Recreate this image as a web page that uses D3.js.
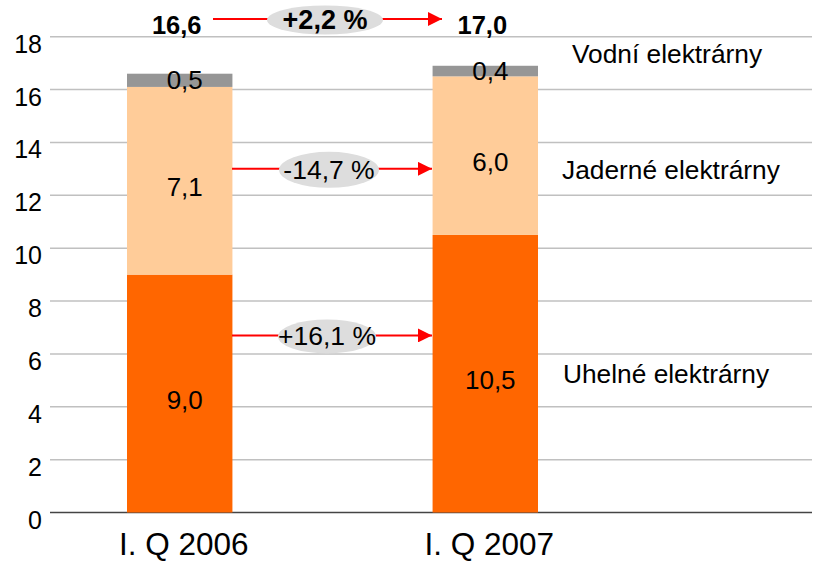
<!DOCTYPE html>
<html>
<head>
<meta charset="utf-8">
<style>
body { margin: 0; background: #fff; }
text { font-family: "Liberation Sans", Arial, sans-serif; fill: #000; }
</style>
</head>
<body>
<svg width="815" height="562"></svg>
<script src="https://d3js.org/d3.v7.min.js"></script>
<script>

var quarters = ["I. Q 2006", "I. Q 2007"];
var uhelne = [9.0, 10.5];
var jaderne = [7.1, 6.0];
var vodni = [0.5, 0.4];
var totals = ["16,6", "17,0"];
var seriesNames = ["Uhelné elektrárny", "Jaderné elektrárny", "Vodní elektrárny"];
var changes = ["+16,1 %", "-14,7 %", "+2,2 %"];
var yTicks = [0, 2, 4, 6, 8, 10, 12, 14, 16, 18];

var svg = d3.select("svg");

var y = d3.scaleLinear().domain([0, 18]).range([512.5, 36.7]);
var x = d3.scaleBand().domain(quarters).range([127, 538])
    .paddingInner(0.655).paddingOuter(0);

var colors = ["#FF6600", "#FFCC99", "#969696"];

// grid
svg.append("g").selectAll("line")
  .data(yTicks)
  .enter().append("line")
    .attr("x1", 50).attr("x2", 812)
    .attr("y1", function(d) { return y(d); })
    .attr("y2", function(d) { return y(d); })
    .attr("stroke", function(d) { return d == 0 ? "#444" : "#c0c0c0"; })
    .attr("stroke-width", 1.5);

svg.append("g").selectAll("text")
  .data(yTicks)
  .enter().append("text")
    .attr("x", 42)
    .attr("y", function(d) { return y(d) + 16; })
    .attr("text-anchor", "end")
    .attr("font-size", 25)
    .text(function(d) { return d; });

// stacked bars
var stack = quarters.map(function(q, i) {
  var vals = [uhelne[i], jaderne[i], vodni[i]];
  var y0 = 0;
  return vals.map(function(v, k) {
    var s = { q: q, k: k, y0: y0, y1: y0 + v, v: v };
    y0 += v;
    return s;
  });
});
var segs = [].concat.apply([], stack);

svg.append("g").selectAll("rect")
  .data(segs)
  .enter().append("rect")
    .attr("x", function(d) { return x(d.q); })
    .attr("width", x.bandwidth())
    .attr("y", function(d) { return y(d.y1); })
    .attr("height", function(d) { return y(d.y0) - y(d.y1); })
    .attr("fill", function(d) { return colors[d.k]; });

svg.append("g").selectAll("text")
  .data(segs)
  .enter().append("text")
    .attr("x", function(d) { return x(d.q) + x.bandwidth() / 2 + 5; })
    .attr("y", function(d) { return y((d.y0 + d.y1) / 2) + (d.k == 2 ? 9 : 15); })
    .attr("text-anchor", "middle")
    .attr("font-size", 26)
    .text(function(d) { return d3.format(".1f")(d.v).replace(".", ","); });

// totals
svg.append("g").selectAll("text")
  .data(quarters)
  .enter().append("text")
    .attr("x", function(d) { return x(d) + x.bandwidth() / 2 - 3; })
    .attr("y", 34)
    .attr("text-anchor", "middle")
    .attr("font-size", 25.5)
    .attr("font-weight", "bold")
    .text(function(d, i) { return totals[i]; });

// x labels
svg.append("g").selectAll("text")
  .data(quarters)
  .enter().append("text")
    .attr("x", function(d) { return x(d) + x.bandwidth() / 2 + 4; })
    .attr("y", 555)
    .attr("text-anchor", "middle")
    .attr("font-size", 31.5)
    .text(function(d) { return d; });

// series labels on right
var legendPos = [[563, 383], [562, 179], [572, 63]];
svg.append("g").selectAll("text")
  .data(seriesNames)
  .enter().append("text")
    .attr("x", function(d, i) { return legendPos[i][0]; })
    .attr("y", function(d, i) { return legendPos[i][1]; })
    .attr("font-size", 26.3)
    .text(function(d) { return d; });

// change arrows
svg.append("defs").append("marker")
    .attr("id", "arrow")
    .attr("viewBox", "0 0 10 10")
    .attr("refX", 10).attr("refY", 5)
    .attr("markerUnits", "userSpaceOnUse")
    .attr("markerWidth", 15).attr("markerHeight", 14)
    .attr("orient", "auto")
  .append("path")
    .attr("d", "M0,0L10,5L0,10Z")
    .attr("fill", "#ff0000");

var arrows = [
  { v: 6.7, x1: 232, x2: 432, cx: 327, rx: 49, ry: 17, bold: false },
  { v: 13, x1: 232, x2: 432, cx: 329, rx: 50, ry: 18, bold: false },
  { v: 18.67, x1: 213, x2: 442, cx: 325, rx: 58, ry: 14.5, bold: true }
];

var ag = svg.append("g").selectAll("g")
  .data(arrows)
  .enter().append("g");

ag.append("line")
    .attr("x1", function(d) { return d.x1; })
    .attr("x2", function(d) { return d.x2; })
    .attr("y1", function(d) { return y(d.v); })
    .attr("y2", function(d) { return y(d.v); })
    .attr("stroke", "#ff0000")
    .attr("stroke-width", 2)
    .attr("marker-end", "url(#arrow)");

ag.append("ellipse")
    .attr("cx", function(d) { return d.cx; })
    .attr("cy", function(d) { return y(d.v) + 1; })
    .attr("rx", function(d) { return d.rx; })
    .attr("ry", function(d) { return d.ry; })
    .attr("fill", "#dddddd");

ag.append("text")
    .attr("x", function(d) { return d.cx; })
    .attr("y", function(d) { return y(d.v) + 10; })
    .attr("text-anchor", "middle")
    .attr("font-size", function(d) { return d.bold ? 27 : 26.5; })
    .attr("font-weight", function(d) { return d.bold ? "bold" : "normal"; })
    .text(function(d, i) { return changes[i]; });

</script>
</body>
</html>
